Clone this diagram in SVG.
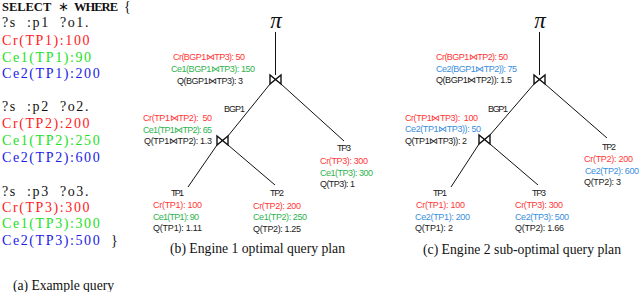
<svg xmlns="http://www.w3.org/2000/svg" width="640" height="292" viewBox="0 0 640 292">
<style>
.q{font-family:"Liberation Serif",serif;font-size:14px;letter-spacing:1.6px}
.kw{font-family:"Liberation Serif",serif;font-size:12.5px;font-weight:bold}
.r{fill:#ff2020}.g{fill:#22e022}.b{fill:#2020e8}.k{fill:#111}
.t{font-family:"Liberation Sans",Arial,sans-serif;font-size:9px}
.tr{fill:#ff3636}.tg{fill:#2fb34f}.tb{fill:#3a8edc}.tk{fill:#222}
.cap{font-family:"Liberation Serif",serif;font-size:13.7px;fill:#111}
.pi{font-family:"Liberation Serif",serif;font-style:italic;font-size:23px;fill:#111}
.bt{fill:none;stroke:#111;stroke-width:1.4;stroke-linejoin:miter}
.ln{stroke:#111;stroke-width:1;fill:none}
</style>
<rect width="640" height="292" fill="#fff"/>

<g id="query">
<text class="kw k" y="10.5"><tspan x="2" textLength="49">SELECT</tspan> <tspan x="58" style="font-weight:normal">∗</tspan> <tspan x="74" textLength="44">WHERE</tspan> <tspan x="124" style="font-weight:normal;font-size:14px">{</tspan></text>
<text class="q k" x="2" y="27" xml:space="preserve">?s  :p1  ?o1.</text>
<text class="q r" x="2" y="45">Cr(TP1):100</text>
<text class="q g" x="2" y="61.5">Ce1(TP1):90</text>
<text class="q b" x="2" y="78">Ce2(TP1):200</text>
<text class="q k" x="2" y="111" xml:space="preserve">?s  :p2  ?o2.</text>
<text class="q r" x="2" y="128">Cr(TP2):200</text>
<text class="q g" x="2" y="145">Ce1(TP2):250</text>
<text class="q b" x="2" y="162">Ce2(TP2):600</text>
<text class="q k" x="2" y="196" xml:space="preserve">?s  :p3  ?o3.</text>
<text class="q r" x="2" y="212">Cr(TP3):300</text>
<text class="q g" x="2" y="228">Ce1(TP3):300</text>
<text class="q b" x="2" y="245">Ce2(TP3):500</text>
<text class="q k" x="111" y="245">}</text>
<text class="cap" x="13" y="290" textLength="101">(a) Example query</text>
</g>

<g id="connectors">
<line class="ln" x1="275.5" y1="32" x2="275.5" y2="75"/>
<line class="ln" x1="270" y1="84" x2="228" y2="136"/>
<line class="ln" x1="281" y1="84" x2="344" y2="141"/>
<line class="ln" x1="217" y1="145" x2="188" y2="187"/>
<line class="ln" x1="228" y1="145" x2="275" y2="185"/>
<line class="ln" x1="539.5" y1="32" x2="539.5" y2="75"/>
<line class="ln" x1="534" y1="84" x2="490" y2="135"/>
<line class="ln" x1="545" y1="84" x2="607" y2="138"/>
<line class="ln" x1="479" y1="144" x2="451" y2="187"/>
<line class="ln" x1="490" y1="144" x2="538" y2="185"/>
</g>

<g id="e1-pi"><text class="pi" x="276" y="28" text-anchor="middle">π</text></g>
<g id="e1-root">
<path class="bt" d="M270,75 L270,84 L281,75 L281,84 Z"/>
<text class="t tr" x="173" y="60" textLength="72">Cr(BGP1⋈TP3): 50</text>
<text class="t tg" x="171" y="72" textLength="84">Ce1(BGP1⋈TP3): 150</text>
<text class="t tk" x="177" y="83.5" textLength="66">Q(BGP1⋈TP3): 3</text>
</g>
<g id="e1-bgp1">
<path class="bt" d="M217,136 L217,145 L228,136 L228,145 Z"/>
<text class="t tk" x="224" y="112" textLength="21">BGP1</text>
<text class="t tr" x="143" y="121" textLength="69" xml:space="preserve">Cr(TP1⋈TP2):  50</text>
<text class="t tg" x="143" y="132.5" textLength="69">Ce1(TP1⋈TP2): 65</text>
<text class="t tk" x="144" y="144" textLength="68">Q(TP1⋈TP2): 1.3</text>
</g>
<g id="e1-tp1">
<text class="t tk" x="171" y="196" textLength="13">TP1</text>
<text class="t tr" x="153" y="208" textLength="49">Cr(TP1): 100</text>
<text class="t tg" x="153" y="220" textLength="46">Ce1(TP1): 90</text>
<text class="t tk" x="153" y="231" textLength="49">Q(TP1): 1.11</text>
</g>
<g id="e1-tp2">
<text class="t tk" x="270" y="196" textLength="14">TP2</text>
<text class="t tr" x="253" y="208.5" textLength="48">Cr(TP2): 200</text>
<text class="t tg" x="253" y="220" textLength="54">Ce1(TP2): 250</text>
<text class="t tk" x="253" y="231.5" textLength="48">Q(TP2): 1.25</text>
</g>
<g id="e1-tp3">
<text class="t tk" x="337" y="151" textLength="14">TP3</text>
<text class="t tr" x="320" y="164" textLength="48">Cr(TP3): 300</text>
<text class="t tg" x="320" y="176" textLength="53">Ce1(TP3): 300</text>
<text class="t tk" x="320" y="187" textLength="35">Q(TP3): 1</text>
</g>
<text class="cap" x="170" y="253" textLength="175">(b) Engine 1 optimal query plan</text>

<g id="e2-pi"><text class="pi" x="540" y="28" text-anchor="middle">π</text></g>
<g id="e2-root">
<path class="bt" d="M534,75 L534,84 L545,75 L545,84 Z"/>
<text class="t tr" x="436" y="60" textLength="72">Cr(BGP1⋈TP2): 50</text>
<text class="t tb" x="436" y="71.5" textLength="81">Ce2(BGP1⋈TP2)): 75</text>
<text class="t tk" x="436" y="83" textLength="76">Q(BGP1⋈TP2)): 1.5</text>
</g>
<g id="e2-bgp1">
<path class="bt" d="M479,135 L479,144 L490,135 L490,144 Z"/>
<text class="t tk" x="488" y="112" textLength="20">BGP1</text>
<text class="t tr" x="405" y="120.5" textLength="73" xml:space="preserve">Cr(TP1⋈TP3):  100</text>
<text class="t tb" x="405" y="132" textLength="76">Ce2(TP1⋈TP3)): 50</text>
<text class="t tk" x="405" y="144" textLength="62">Q(TP1⋈TP3)): 2</text>
</g>
<g id="e2-tp2">
<text class="t tk" x="602" y="150" textLength="14">TP2</text>
<text class="t tr" x="584" y="161.5" textLength="49">Cr(TP2): 200</text>
<text class="t tb" x="585" y="173.5" textLength="54">Ce2(TP2): 600</text>
<text class="t tk" x="584" y="185" textLength="37">Q(TP2): 3</text>
</g>
<g id="e2-tp1">
<text class="t tk" x="433" y="196" textLength="14">TP1</text>
<text class="t tr" x="416" y="207.5" textLength="49">Cr(TP1): 100</text>
<text class="t tb" x="415" y="219.5" textLength="55">Ce2(TP1): 200</text>
<text class="t tk" x="415" y="231" textLength="38">Q(TP1): 2</text>
</g>
<g id="e2-tp3">
<text class="t tk" x="532" y="196" textLength="14">TP3</text>
<text class="t tr" x="515" y="207.5" textLength="48">Cr(TP3): 300</text>
<text class="t tb" x="515" y="219.5" textLength="54">Ce2(TP3): 500</text>
<text class="t tk" x="515" y="231" textLength="49">Q(TP2): 1.66</text>
</g>
<text class="cap" x="423" y="254" textLength="198">(c) Engine 2 sub-optimal query plan</text>
</svg>
